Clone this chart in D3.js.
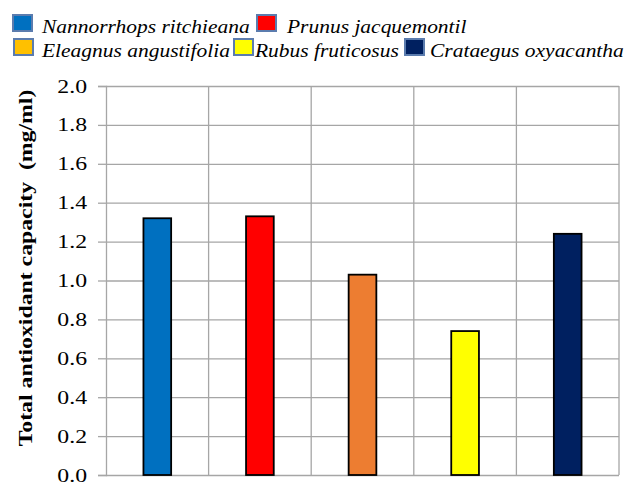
<!DOCTYPE html>
<html>
  <head>
    <meta charset="utf-8">
    <title></title>
    <style>
      body { margin: 0; background: #fff; }
      text { font-family: "Liberation Serif", "Times New Roman", serif; }
    </style>
  </head>
  <body>
    <script src="https://d3js.org/d3.v7.min.js"></script>
    <svg id="chart" width="626" height="483"></svg>
    <script>
      // data
      const species = ["Nannorrhops ritchieana", "Prunus jacquemontil", "Eleagnus angustifolia", "Rubus fruticosus", "Crataegus oxyacantha"]
      const capacity = [1.32, 1.33, 1.03, 0.74, 1.24]
      const barColors = ["#0070C0", "#FF0000", "#ED7D31", "#FFFF00", "#002060"]
      const legendColors = ["#0070C0", "#FF0000", "#FFC000", "#FFFF00", "#002060"]
      const yTicks = [0, 0.2, 0.4, 0.6, 0.8, 1.0, 1.2, 1.4, 1.6, 1.8, 2.0]
      const yTitle = "Total antioxidant capacity  (mg/ml)"

      const plotL = 106
      const plotR = 619
      const plotT = 86
      const plotB = 475

      const svg = d3.select('#chart')

      // widen glyphs a bit, the source font is drawn wider than Liberation Serif
      function stretch(sel, k) {
        sel.each(function() {
          const w = this.getComputedTextLength()
          d3.select(this).attr('textLength', w * k).attr('lengthAdjust', 'spacingAndGlyphs')
        })
      }

      const x = d3.scaleBand().domain(species).range([plotL, plotR])
      const y = d3.scaleLinear().domain([0, 2]).range([plotB, plotT])

      // horizontal grid
      svg.append('g')
        .attr('transform', `translate(${plotL},0)`)
        .call(d3.axisLeft(y).tickValues(yTicks).tickSize(-(plotR - plotL)).tickFormat(''))
        .call(g => g.select('.domain').remove())
        .selectAll('line')
          .attr('stroke', '#a6a6a6')
          .attr('stroke-width', 1.3)

      // vertical grid at category boundaries
      svg.append('g')
        .selectAll('line')
        .data(species)
        .join('line')
          .attr('x1', d => x(d) + x.bandwidth())
          .attr('x2', d => x(d) + x.bandwidth())
          .attr('y1', plotT)
          .attr('y2', plotB)
          .attr('stroke', '#a6a6a6')
          .attr('stroke-width', 1.3)

      // y axis with ticks and labels
      const yAxis = svg.append('g')
        .attr('transform', `translate(${plotL},0)`)
        .call(d3.axisLeft(y).tickValues(yTicks).tickSize(8).tickPadding(11).tickFormat(d3.format('.1f')))
      yAxis.attr('font-family', null).attr('font-size', null)
      yAxis.select('.domain').attr('stroke', '#a6a6a6').attr('stroke-width', 1.3)
      yAxis.selectAll('.tick line').attr('stroke', '#a6a6a6').attr('stroke-width', 1.3)
      yAxis.selectAll('.tick text')
        .attr('font-size', 19)
        .attr('fill', '#000')
        .call(stretch, 1.25)

      // bars
      const bw = x.bandwidth() * 0.27
      svg.append('g')
        .selectAll('rect')
        .data(species)
        .join('rect')
          .attr('x', d => x(d) + (x.bandwidth() - bw) / 2)
          .attr('width', bw)
          .attr('y', (d, i) => y(capacity[i]))
          .attr('height', (d, i) => plotB - y(capacity[i]))
          .attr('fill', (d, i) => barColors[i])
          .attr('stroke', '#000')
          .attr('stroke-width', 1.8)

      // y title
      svg.append('text')
        .attr('transform', `translate(32,268) rotate(-90)`)
        .attr('text-anchor', 'middle')
        .attr('font-size', 19)
        .attr('font-weight', 'bold')
        .style('white-space', 'pre')
        .text(yTitle)
        .call(stretch, 1.25)

      // legend
      const legendPos = [
        {rx: 12, ry: 14, tx: 42, ty: 33},
        {rx: 256, ry: 14, tx: 287, ty: 33},
        {rx: 13, ry: 38, tx: 42, ty: 57},
        {rx: 233, ry: 38, tx: 255, ty: 57},
        {rx: 404, ry: 38, tx: 430, ty: 57}
      ]
      const legend = svg.append('g')
      species.forEach((s, i) => {
        const p = legendPos[i]
        legend.append('rect')
          .attr('x', p.rx + 1)
          .attr('y', p.ry + 1)
          .attr('width', 19)
          .attr('height', 16)
          .attr('fill', legendColors[i])
          .attr('stroke', '#5b7cae')
          .attr('stroke-width', 2)
        legend.append('text')
          .attr('x', p.tx)
          .attr('y', p.ty)
          .attr('font-size', 19)
          .attr('font-style', 'italic')
          .text(s)
          .call(stretch, 1.13)
      })
    </script>
  </body>
</html>
